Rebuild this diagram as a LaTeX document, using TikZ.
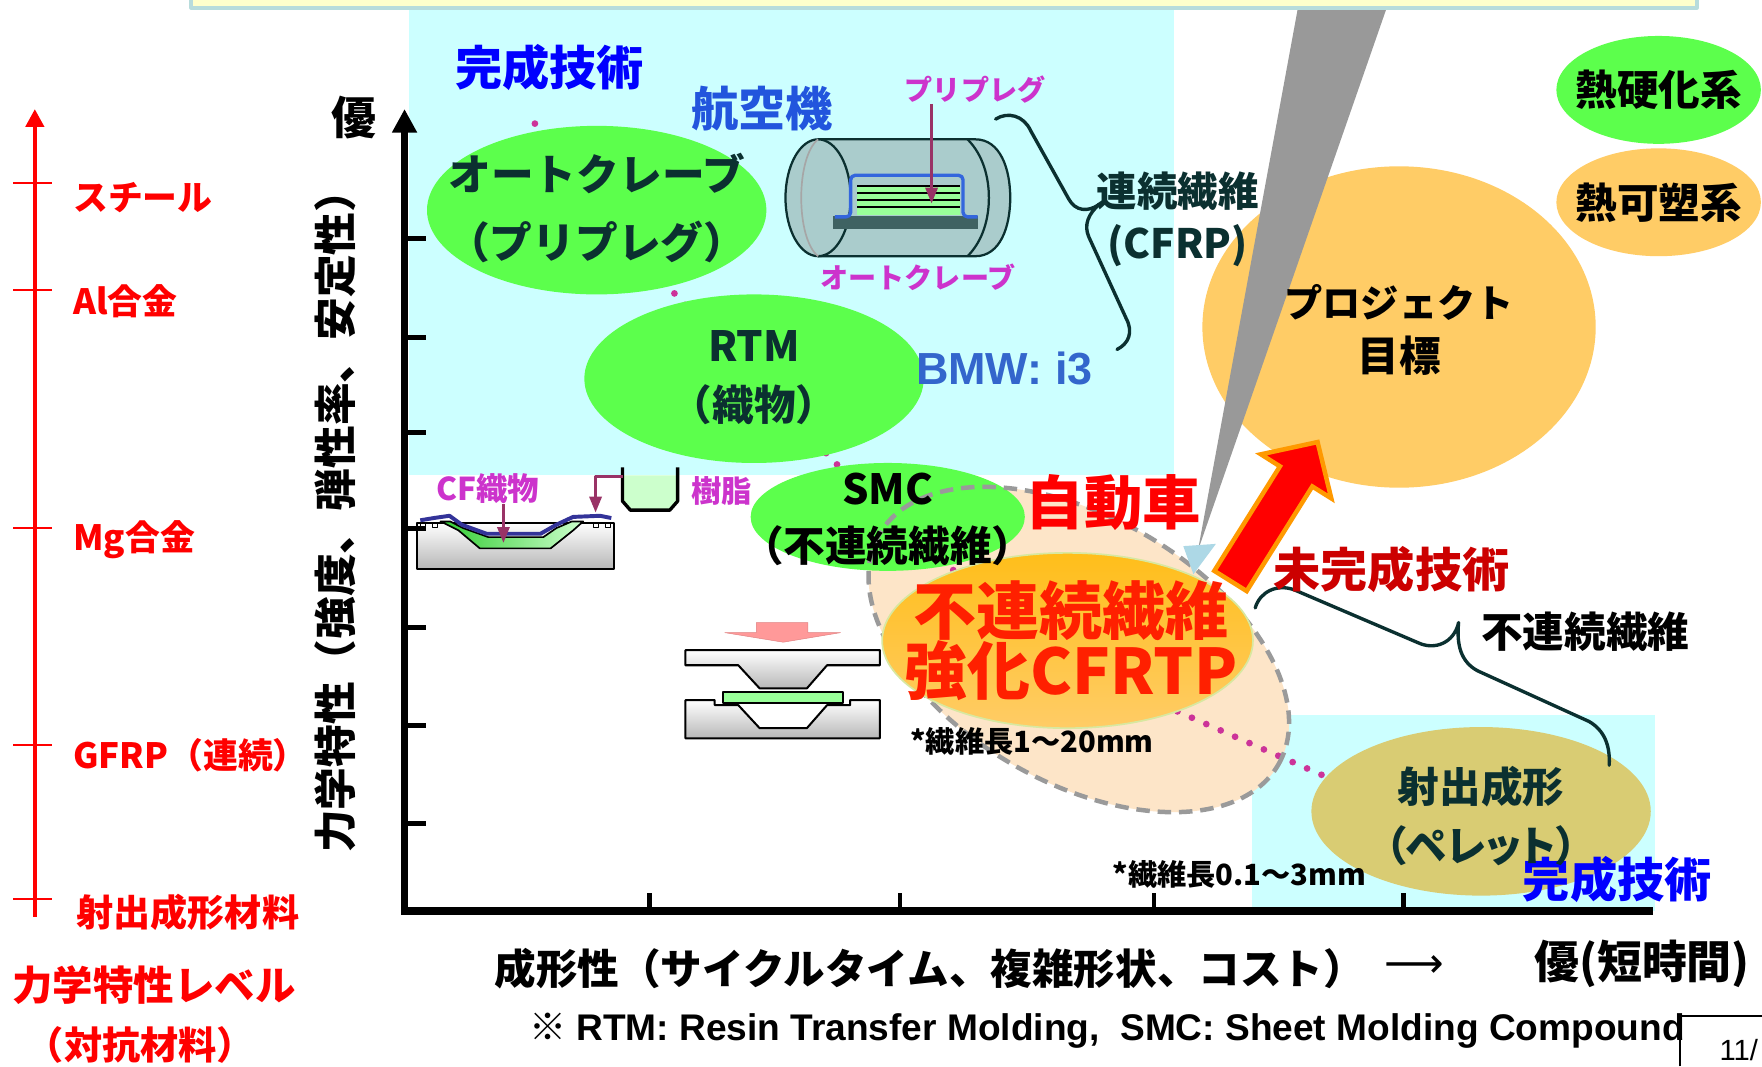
\documentclass[tikz,border=0pt]{standalone}
\usepackage{fontspec}
\setmainfont{Noto Sans CJK JP}
\newfontfamily\jpprop{Noto Sans CJK JP}[RawFeature=+palt]
\newfontfamily\latinsans{Liberation Sans}
\newfontfamily\symfont{DejaVu Sans}
\usetikzlibrary{shapes.geometric,arrows.meta}
\newcommand\fsz[2]{\fontsize{#1pt}{#2pt}\selectfont}

\definecolor{bannerfill}{HTML}{FFFFCC}
\definecolor{bannerline}{HTML}{B8DCDC}
\definecolor{zonecyan}{HTML}{CCFFFF}
\definecolor{leafgreen}{HTML}{5CFF4C}
\definecolor{amber}{HTML}{FFCC66}
\definecolor{deepamber}{HTML}{FFBE1A}
\definecolor{cfrim}{HTML}{D8E8A0}
\definecolor{khaki2}{HTML}{D9CC73}
\definecolor{peach}{HTML}{FDE5C8}
\definecolor{deepteal}{HTML}{0B3030}
\definecolor{magenta2}{HTML}{CC33CC}
\definecolor{plum}{HTML}{993366}
\definecolor{dotpink}{HTML}{CC3399}
\definecolor{wedgegray}{HTML}{999999}
\definecolor{paleblue}{HTML}{ADD8E6}
\definecolor{flame}{HTML}{FF9900}
\definecolor{darkred}{HTML}{CC0000}
\definecolor{pureblue}{HTML}{0000FF}
\definecolor{midblue}{HTML}{2255DD}
\definecolor{bmwblue}{HTML}{3366CC}
\definecolor{cfred}{HTML}{FF2000}
\definecolor{tank}{HTML}{AACCCC}
\definecolor{slate}{HTML}{3F6262}
\definecolor{bagblue}{HTML}{3366DD}
\definecolor{navy2}{HTML}{333399}
\definecolor{mint}{HTML}{99FF99}
\definecolor{pink2}{HTML}{FF9999}
\definecolor{pinkedge}{HTML}{E08080}
\definecolor{resin}{HTML}{CCFFCC}
\definecolor{fibregreen}{HTML}{33CC33}
\definecolor{dashgray}{HTML}{9A9A9A}

\tikzset{
  txt/.style={inner sep=0pt, font=\bfseries},
  blob/.style={ellipse, inner sep=0pt},
  chain/.style={draw=dotpink, line width=6pt, line cap=round, dash pattern=on 0pt off 14pt},
  brace/.style={draw=deepteal, line width=3pt, line cap=round},
  plumarrow/.style={draw=plum, line width=2pt, -{Triangle[width=11pt,length=14pt]}},
  die/.style={draw=black, line width=1.8pt, top color=white, bottom color=black!28},
  redtick/.style={draw=red, line width=2pt},
}

\begin{document}
\begin{tikzpicture}[x=1pt,y=-1pt,line join=round]
\useasboundingbox (0,0) rectangle (1568,949);
\fill[white] (0,0) rectangle (1568,949);

% regions of established technology
\fill[zonecyan] (364,9) rectangle (1045,423);
\fill[zonecyan] (1114,636) rectangle (1473,811);

% region of discontinuous-fibre CFRTP
\node[blob, fill=peach, minimum width=410pt, minimum height=236pt, rotate=-30] (zone) at (960,578) {};

% centres of the process ellipses
\coordinate (acC) at (531,187);
\coordinate (rtmC) at (671,337);
\coordinate (smcC) at (790,460);
\coordinate (injC) at (1318,722);
\coordinate (ch0) at (476,110);
\coordinate (ch4) at (950,590);
\coordinate (ch5) at (1318,752);
\draw[chain] (ch0) -- (acC) -- (rtmC) -- (smcC) -- (ch4) -- (ch5);

% process ellipses
\node[blob, fill=leafgreen, minimum width=302pt, minimum height=150pt] (ac) at (acC) {};
\node[blob, fill=leafgreen, minimum width=302pt, minimum height=150pt] (rtm) at (rtmC) {};
\node[blob, fill=leafgreen, minimum width=244pt, minimum height=96pt] (smc) at (smcC) {};
\node[blob, fill=leafgreen, minimum width=182pt, minimum height=96pt] (thermoset) at (1476,80) {};
\node[blob, fill=amber, minimum width=182pt, minimum height=96pt] (thermoplast) at (1476,180) {};
\node[blob, fill=amber, minimum width=350pt, minimum height=286pt] (goal) at (1245,291) {};
\node[blob, fill=khaki2, minimum width=302pt, minimum height=150pt] (inj) at (injC) {};

\node[blob, draw=dashgray, dash pattern=on 12pt off 7pt, line width=4pt, minimum width=410pt, minimum height=236pt, rotate=-30] (zoneline) at (960,578) {};

\node[blob, top color=deepamber, bottom color=amber, draw=cfrim, line width=1.5pt, minimum width=330pt, minimum height=156pt] (cf) at (950,570) {};

% pointer from the banner
\coordinate (wedgeL) at (1155,7);
\coordinate (wedgeR) at (1234,7);
\coordinate (wedgeTip) at (1066,490);
\fill[wedgegray] (wedgeL) -- (wedgeR) -- (wedgeTip) -- cycle;
\fill[paleblue] (1053,486) -- (1082,484) -- (1062,511) -- cycle;

% big arrow towards the project goal
\filldraw[fill=red, draw=flame, line width=4pt, line join=miter]
  (1080.6,508) -- (1139,415) -- (1122.1,404.3) -- (1172.5,393.4)
  -- (1184.7,443.5) -- (1167.8,432.9) -- (1109.4,526) -- cycle;

% braces
\draw[brace] (886,106) .. controls (897,99) and (911,103) .. (917,116) -- (951,177)
  .. controls (957,188) and (968,189) .. (978,182)
  .. controls (969,190) and (964,200) .. (969,211) -- (1002,283)
  .. controls (1009,296) and (1004,306) .. (994,311);
\draw[brace] (1117,541) .. controls (1121,527) and (1136,519) .. (1152,525) -- (1262,572)
  .. controls (1277,579) and (1294,572) .. (1298,554)
  .. controls (1296,574) and (1300,589) .. (1315,597) -- (1414,642)
  .. controls (1428,650) and (1433,664) .. (1432,681);

% autoclave sketch
\filldraw[fill=tank, draw=deepteal, line width=2pt] (728,124) -- (868,124)
  .. controls (890,124) and (899,150) .. (899,176)
  .. controls (899,202) and (890,228) .. (868,228) -- (728,228) -- cycle;
\draw[deepteal, line width=2pt] (861,124) .. controls (875,138) and (880,158) .. (880,176)
  .. controls (880,194) and (875,214) .. (861,228);
\filldraw[fill=tank, draw=deepteal, line width=2pt] (728,176) ellipse [x radius=29, y radius=52];
\draw[gray!70, line width=1.5pt] (728,124) .. controls (708,140) and (708,212) .. (728,228);
\fill[slate] (741,192) rectangle (870,204);
\fill[mint] (763,165) rectangle (854,191);
\foreach \yy in {165.5,172,178,184} \draw[black, line width=1.5pt] (763,\yy) -- (854,\yy);
\draw[bagblue, line width=3pt, rounded corners=4pt] (743,193) -- (757,193) -- (757,156) -- (857,156) -- (857,193) -- (870,193);

% RTM mould sketch
\filldraw[die] (371,465) rectangle (546,506);
\filldraw[draw=black, line width=1.5pt, left color=fibregreen, right color=resin]
  (392,464) -- (408,472) -- (427,488) -- (490,488) -- (510,472) -- (519,464)
  -- (509,464) -- (495,470) -- (483.5,478) -- (434.6,478) -- (412.3,470) -- (400.5,464) -- cycle;
\draw[navy2, line width=3.5pt] (374,463) -- (386,461) -- (400,459) -- (411,467) -- (433,475)
  -- (481,475) -- (495,467) -- (510,460) -- (534,459) -- (544,461);
\foreach \sx in {374,384.5,528,538.5} \filldraw[fill=white, draw=black, line width=1pt] (\sx,465.5) rectangle ++(4.5,4);
\fill[resin] (554,423) -- (554,446) -- (561,454) -- (596,454) -- (603,446) -- (603,423) -- cycle;
\draw[black, line width=3pt] (554,416) -- (554,446) -- (561,454) -- (596,454) -- (603,446) -- (603,416);
\coordinate (cupL) at (554,424);
\coordinate (resinTip) at (530,456);
\draw[plumarrow] (cupL) -| (resinTip);

% compression moulding sketch
\filldraw[fill=pink2, draw=pinkedge] (673,554) -- (719,554) -- (719,563) -- (748,563) -- (697,571.5) -- (645,563) -- (673,563) -- cycle;
\filldraw[die] (610,578.5) -- (783,578.5) -- (783,592) -- (736,592) -- (718,612.6) -- (676,612.6) -- (657,592) -- (610,592) -- cycle;
\filldraw[die] (610,623) -- (636,623) -- (636,627.5) -- (657,627.5) -- (676,648) -- (718,648) -- (736,627.5) -- (756.5,627.5) -- (756.5,623) -- (783,623) -- (783,657) -- (610,657) -- cycle;
\filldraw[fill=mint, draw=black, line width=1.8pt] (643,615.6) rectangle (750,626);

% material level scale
\draw[red, line width=4pt, -{Triangle[width=16pt,length=16pt]}] (31,816) -- (31,97);
\foreach \ty in {163,258,470,663,800} \draw[redtick] (12,\ty) -- (46,\ty);

% chart axes
\draw[black, line width=7pt] (357,811) -- (1471,811);
\draw[black, line width=7pt, -{Triangle[width=21pt,length=21pt]}] (360,814) -- (360,97);
\foreach \ty in {212,300,385,470,558,646,733} \draw[black, line width=4.5pt] (360,\ty) -- (379,\ty);
\foreach \tx in {578,801,1027,1249} \draw[black, line width=4pt] (\tx,811) -- (\tx,795);

% banner
\filldraw[fill=bannerfill, draw=bannerline, line width=3pt] (170,-10) rectangle (1510,7);

% level labels
\node[txt, text=red, anchor=west, font=\bfseries\fsz{31}{31}] (lSteel) at (65,176) {スチール};
\node[txt, text=red, anchor=west, font=\bfseries\fsz{31}{31}] (lAl) at (65,268) {Al合金};
\node[txt, text=red, anchor=west, font=\bfseries\fsz{31}{31}] (lMg) at (65,480) {Mg合金};
\node[txt, text=red, anchor=west, font=\bfseries\fsz{31}{31}] (lGf) at (65,672) {GFRP（連続）};
\node[txt, text=red, anchor=west, font=\bfseries\fsz{33}{33}] (lInj) at (68,812) {射出成形材料};
\node[txt, text=red, font=\bfseries\fsz{36}{36}] (lLevel) at (137,877) {力学特性レベル};
\node[txt, text=red, font=\bfseries\fsz{34}{34}] (lRival) at (125,930) {（対抗材料）};

% axis labels
\node[txt, rotate=90, font=\bfseries\fsz{38}{38}] (yLab) at (298,455) {力学特性（強度、弾性率、安定性）};
\node[txt, font=\bfseries\fsz{40}{40}] (yTop) at (315,105) {優};
\node[txt, anchor=west, font=\bfseries\fsz{37}{37}] (xLab) at (440,862) {成形性（サイクルタイム、複雑形状、コスト）};
\node[txt, font=\symfont\fsz{37}{37}] (xArrow) at (1259,860) {⟶};
\node[txt, anchor=west, font=\bfseries\fsz{40}{40}] (xTop) at (1365,858) {優(短時間)};
\node[txt, font=\latinsans\bfseries\fsz{33}{33}] (note) at (985,917) {{\rmfamily ※} RTM: Resin Transfer Molding,\ \ SMC: Sheet Molding Compound};
\draw[black, line width=1.5pt] (1495,949) -- (1495,904) -- (1568,904);
\node[inner sep=0pt, anchor=west, font=\latinsans\fsz{26}{26}] (page) at (1530,934) {11/};

% region titles
\node[txt, text=pureblue, anchor=west, font=\bfseries\fsz{42}{42}] (doneTop) at (405,60) {完成技術};
\node[txt, text=midblue, anchor=west, font=\bfseries\fsz{42}{42}] (aero) at (615,97) {航空機};
\node[txt, text=bmwblue, anchor=west, font=\latinsans\bfseries\fsz{40}{40}] (bmw) at (815,328) {BMW: i3};
\node[txt, text=pureblue, anchor=west, font=\bfseries\fsz{42}{42}] (doneLow) at (1355,783) {完成技術};
\node[txt, text=deepteal, align=center, font=\bfseries\fsz{36}{46}] (cont) at (1048,195) {連続繊維\\(CFRP)};

% ellipse captions
\node[txt, text=deepteal, align=center, font=\bfseries\fsz{38}{60}] (acT) at (531,185) {オートクレーブ\\（プリプレグ）};
\node[txt, text=deepteal, align=center, font=\bfseries\fsz{37}{52}] (rtmT) at (671,336) {RTM\\（織物）};
\node[txt, align=center, font=\bfseries\fsz{37}{51}] (smcT) at (790,462) {SMC\\（不連続繊維）};
\node[txt, font=\bfseries\fsz{37}{37}] (thermosetT) at (thermoset) {熱硬化系};
\node[txt, font=\bfseries\fsz{37}{37}] (thermoplastT) at (thermoplast) {熱可塑系};
\node[txt, align=center, font=\bfseries\fsz{34}{48}] (goalT) at (1245,294) {プロジェクト\\{\fsz{37}{37}目標}};
\node[txt, text=cfred, align=center, font=\bfseries\fsz{56}{54}] (cfT) at (953,570) {不連続繊維\\強化CFRTP};
\node[txt, text=deepteal, align=center, font=\bfseries\fsz{37}{52}] (injT) at (1318,726) {射出成形\\{\jpprop （ペレット）}};

\node[txt, text=red, font=\bfseries\fsz{52}{52}] (auto) at (991,447) {自動車};
\node[txt, text=darkred, anchor=west, font=\bfseries\fsz{42}{42}] (todo) at (1133,507) {未完成技術};
\node[txt, anchor=west, font=\bfseries\fsz{37}{37}] (disc) at (1318,562) {不連続繊維};
\node[txt, anchor=west, font=\bfseries\fsz{26}{26}] (len1) at (810,660) {*繊維長1～20mm};
\node[txt, anchor=west, font=\bfseries\fsz{26}{26}] (len2) at (990,778) {*繊維長0.1～3mm};

% sketch labels
\node[txt, text=magenta2, anchor=west, font=\bfseries\fsz{25}{25}] (prp) at (805,80) {プリプレグ};
\node[txt, text=magenta2, anchor=west, font=\bfseries\fsz{25}{25}] (acl) at (730,247) {オートクレーブ};
\node[txt, text=magenta2, anchor=west, font=\bfseries\fsz{28}{28}] (cfw) at (388,435) {CF織物};
\node[txt, text=magenta2, anchor=west, font=\bfseries\fsz{27}{27}] (res) at (615,437) {樹脂};
\coordinate (prpTip) at (829,181);
\coordinate (cfTip) at (448,483);
\draw[plumarrow] (prp.south -| prpTip) -- (prpTip);
\draw[plumarrow] (cfw.south -| cfTip) -- (cfTip);
\end{tikzpicture}
\end{document}
